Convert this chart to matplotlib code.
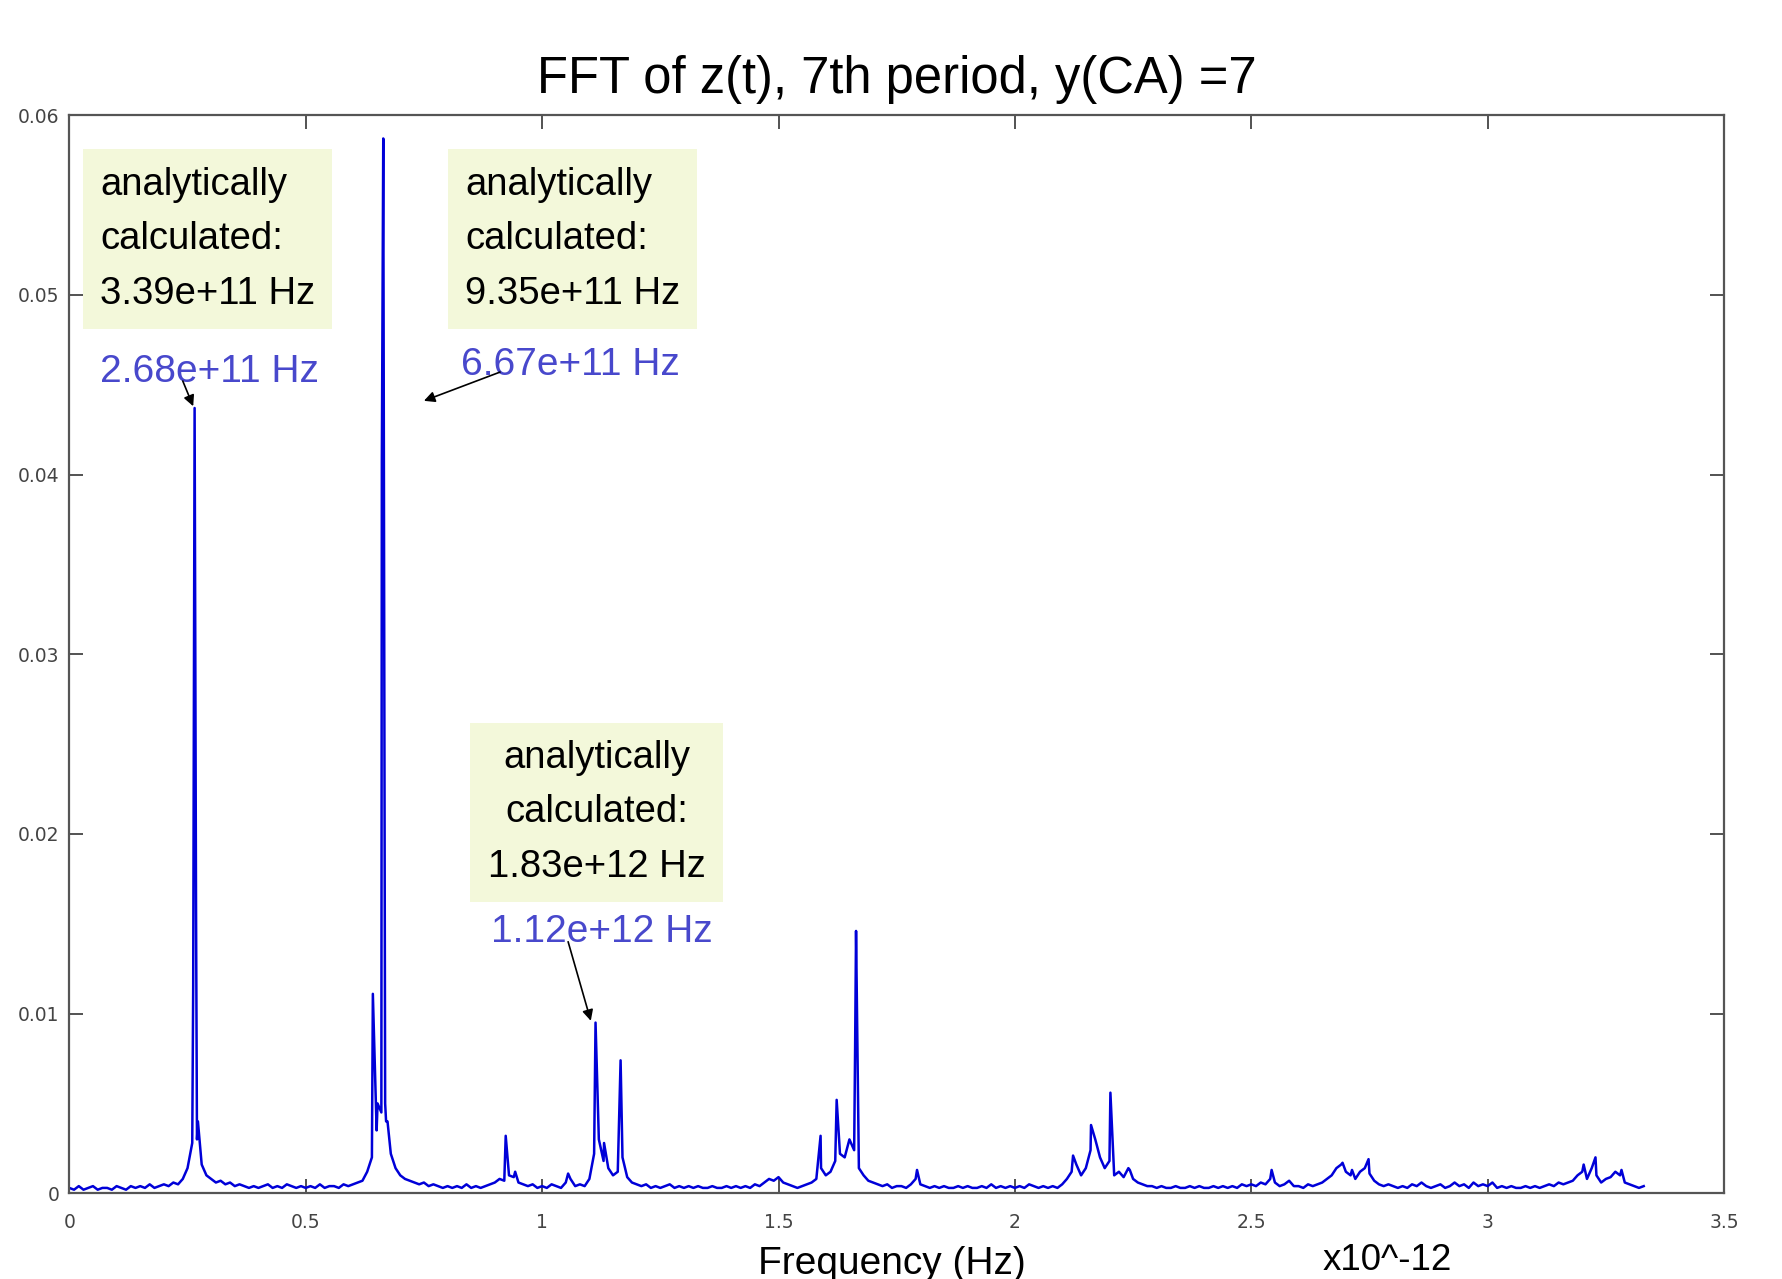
import numpy as np
import matplotlib.pyplot as plt

# noise floor of the spectrum, one value every 0.01 from 0.00 to 3.33 (units of 1e-4)
floor_step = 0.01
floor_vals = [
    3, 2, 4, 2, 3, 4, 2, 3, 3, 2,      # 0.00
    4, 3, 2, 4, 3, 4, 3, 5, 3, 4,      # 0.10
    5, 4, 6, 5, 8, 14, 28, 30, 16, 10,  # 0.20
    8, 6, 7, 5, 6, 4, 5, 4, 3, 4,      # 0.30
    3, 4, 5, 3, 4, 3, 5, 4, 3, 4,      # 0.40
    3, 4, 3, 5, 3, 4, 4, 3, 5, 4,      # 0.50
    5, 6, 7, 12, 20, 35, 45, 40, 22, 14,  # 0.60
    10, 8, 7, 6, 5, 6, 4, 5, 4, 3,     # 0.70
    4, 3, 4, 3, 5, 3, 4, 3, 4, 5,      # 0.80
    6, 8, 7, 10, 9, 6, 5, 4, 5, 3,     # 0.90
    4, 3, 5, 4, 3, 6, 8, 4, 5, 4,      # 1.00
    8, 22, 30, 18, 14, 10, 12, 20, 9, 6,  # 1.10
    5, 4, 5, 3, 4, 3, 4, 5, 3, 4,      # 1.20
    3, 4, 3, 4, 3, 3, 4, 3, 3, 4,      # 1.30
    3, 4, 3, 4, 3, 5, 4, 6, 8, 7,      # 1.40
    9, 6, 5, 4, 3, 4, 5, 6, 8, 14,     # 1.50
    10, 12, 18, 22, 20, 30, 24, 14, 10, 7,  # 1.60
    6, 5, 4, 5, 3, 4, 4, 3, 5, 8,      # 1.70
    5, 4, 3, 4, 3, 4, 3, 3, 4, 3,      # 1.80
    4, 3, 3, 4, 3, 5, 3, 4, 3, 4,      # 1.90
    3, 4, 3, 5, 4, 3, 4, 3, 4, 3,      # 2.00
    5, 8, 12, 16, 10, 14, 24, 30, 20, 14,  # 2.10
    18, 10, 12, 9, 14, 8, 6, 5, 4, 4,  # 2.20
    3, 4, 3, 3, 4, 3, 3, 4, 3, 4,      # 2.30
    3, 3, 4, 3, 4, 3, 4, 3, 5, 4,      # 2.40
    5, 4, 6, 5, 8, 6, 4, 5, 7, 4,      # 2.50
    4, 3, 5, 4, 5, 6, 8, 10, 14, 16,   # 2.60
    12, 10, 8, 12, 14, 11, 7, 5, 4, 5,  # 2.70
    4, 3, 4, 3, 5, 4, 6, 4, 3, 4,      # 2.80
    5, 3, 4, 6, 4, 5, 3, 6, 4, 5,      # 2.90
    4, 6, 3, 4, 3, 4, 3, 3, 4, 3,      # 3.00
    4, 3, 4, 5, 4, 6, 5, 6, 7, 10,     # 3.10
    12, 8, 14, 10, 6, 8, 9, 12, 10, 6,  # 3.20
    5, 4, 3, 4,                         # 3.30
]

# sharp spectral lines (frequency, amplitude)
peak_freq = [0.262, 0.265, 0.268, 0.272,
             0.642, 0.652, 0.661, 0.664, 0.668, 0.673,
             0.923, 0.943, 1.055, 1.113, 1.131, 1.166,
             1.589, 1.623, 1.662, 1.664, 1.793,
             2.123, 2.161, 2.202, 2.243, 2.543,
             2.693, 2.713, 2.748, 3.203, 3.228, 3.283]
peak_amp = [0.0115, 0.0437, 0.0160, 0.0040,
            0.0111, 0.0050, 0.0407, 0.0587, 0.0050, 0.0040,
            0.0032, 0.0012, 0.0011, 0.0095, 0.0028, 0.0074,
            0.0032, 0.0052, 0.0080, 0.0146, 0.0013,
            0.0021, 0.0038, 0.0056, 0.0013, 0.0013,
            0.0017, 0.0013, 0.0019, 0.0016, 0.0020, 0.0013]

x_ticks = [0, 0.5, 1, 1.5, 2, 2.5, 3, 3.5]
x_ticklabels = ['0', '0.5', '1', '1.5', '2', '2.5', '3', '3.5']
y_ticks = [0, 0.01, 0.02, 0.03, 0.04, 0.05, 0.06]
y_ticklabels = ['0', '0.01', '0.02', '0.03', '0.04', '0.05', '0.06']

box_texts = ['analytically\ncalculated:\n3.39e+11 Hz',
             'analytically\ncalculated:\n9.35e+11 Hz',
             'analytically\ncalculated:\n1.83e+12 Hz']
found_texts = ['2.68e+11 Hz', '6.67e+11 Hz', '1.12e+12 Hz']

# build the spectrum from the floor and the lines
fx = np.arange(len(floor_vals)) * floor_step
fy = np.array(floor_vals) * 1e-4
xs = np.concatenate([fx, peak_freq])
ys = np.concatenate([fy, peak_amp])
order = np.argsort(xs, kind='stable')
xs, ys = xs[order], ys[order]

plt.rcParams['font.family'] = ['Liberation Sans', 'DejaVu Sans']

fig = plt.figure(figsize=(17.82, 12.79), dpi=100)
ax = fig.add_axes([0.0389, 0.067, 0.9286, 0.843])

ax.plot(xs, ys, color='#0000d8', lw=1.8)

ax.set_xlim(0, 3.5)
ax.set_ylim(0, 0.06)
ax.set_xticks(x_ticks)
ax.set_xticklabels(x_ticklabels, family='DejaVu Sans', fontsize=13.5, color='#444444')
ax.set_yticks(y_ticks)
ax.set_yticklabels(y_ticklabels, family='DejaVu Sans', fontsize=13.5, color='#444444')
ax.tick_params(direction='in', length=10, width=1.3, color='#444444',
               top=True, right=True)
ax.tick_params(axis='x', pad=14)
ax.tick_params(axis='y', pad=7)
for s in ax.spines.values():
    s.set_color('#555555')
    s.set_linewidth(1.6)

ax.set_title('FFT of z(t), 7th period, y(CA) =7', fontsize=36.5, pad=16)
fig.text(0.5006, 0.004, 'Frequency (Hz)', fontsize=28, ha='center', va='baseline')
fig.text(0.742, 0.007, 'x10^-12', fontsize=26.5, ha='left', va='baseline')

box_kw = dict(boxstyle='square,pad=0.45', facecolor='#f3f8da', edgecolor='none')
ax.text(0.065, 0.0531, box_texts[0], fontsize=27.5, ha='left', va='center',
        linespacing=1.66, bbox=box_kw)
ax.text(0.837, 0.0531, box_texts[1], fontsize=27.5, ha='left', va='center',
        linespacing=1.66, bbox=box_kw)
ax.text(1.115, 0.0212, box_texts[2], fontsize=27.5, ha='center', va='center',
        multialignment='center', linespacing=1.66, bbox=box_kw)

blue = '#4848cc'
ax.text(0.065, 0.0457, found_texts[0], fontsize=28, color=blue, ha='left', va='center')
ax.text(0.828, 0.0461, found_texts[1], fontsize=28, color=blue, ha='left', va='center')
ax.text(0.892, 0.01456, found_texts[2], fontsize=28, color=blue, ha='left', va='center')

arrow_kw = dict(arrowstyle='-|>', color='black', lw=1.2, mutation_scale=16,
                shrinkA=0, shrinkB=0)
ax.annotate('', xy=(0.262, 0.0438), xytext=(0.240, 0.0452), arrowprops=arrow_kw)
ax.annotate('', xy=(0.750, 0.0441), xytext=(0.911, 0.0457), arrowprops=arrow_kw)
ax.annotate('', xy=(1.103, 0.0096), xytext=(1.055, 0.0140), arrowprops=arrow_kw)

fig.savefig('out.png', dpi=100)
